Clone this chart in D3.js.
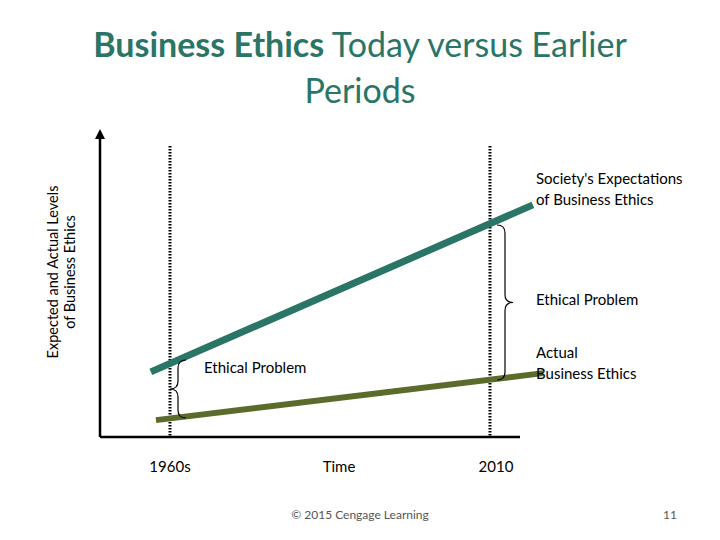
<!DOCTYPE html><html><head><meta charset="utf-8"><script src="https://cdn.jsdelivr.net/npm/d3@7"></script>
<style>body{margin:0;background:#fff}</style></head><body><svg id="c" width="720" height="540"></svg>
<script>
const years=[1960,2010];
const yearLabels=["1960s","2010"];
const societyX=[1957,2016.7], societyY=[21.2,75.6];
const actualX=[1957.8,2018.3], actualY=[5.5,20.8];
const svg=d3.select("#c"), F="Lato, 'Open Sans', sans-serif";
const x=d3.scaleLinear().domain([1949.06,2014.69]).range([100,520]);
const y=d3.scaleLinear().domain([0,100]).range([437,130]);
const teal="#2a7566";
const t=svg.append("text").attr("x",360).attr("y",57).attr("text-anchor","middle").attr("font-family",F).attr("font-size",34).attr("fill",teal);
t.append("tspan").attr("font-weight","bold").text("Business Ethics");
t.append("tspan").text(" Today versus Earlier");
svg.append("text").attr("x",360).attr("y",103).attr("text-anchor","middle").attr("font-family",F).attr("font-size",34).attr("fill",teal).text("Periods");
svg.append("defs").append("marker").attr("id","ar").attr("viewBox","0 0 10 10").attr("refX",5).attr("refY",5).attr("markerWidth",4).attr("markerHeight",4).attr("orient","auto").append("path").attr("d","M0,0L10,5L0,10z").attr("fill","#000");
svg.append("line").attr("x1",100).attr("y1",437).attr("x2",100).attr("y2",134).attr("stroke","#000").attr("stroke-width",2.5).attr("marker-end","url(#ar)");
svg.append("line").attr("x1",100).attr("y1",437).attr("x2",x(2014.69)).attr("y2",437).attr("stroke","#000").attr("stroke-width",2.5);
years.forEach(v=>svg.append("line").attr("x1",x(v)).attr("x2",x(v)).attr("y1",146).attr("y2",437).attr("stroke","#000").attr("stroke-width",3).attr("stroke-dasharray","1.5,1.5"));
const ln=d3.line().x(d=>x(d[0])).y(d=>y(d[1]));
svg.append("path").attr("d",ln(societyX.map((v,i)=>[v,societyY[i]]))).attr("stroke",teal).attr("stroke-width",7).attr("fill","none");
svg.append("path").attr("d",ln(actualX.map((v,i)=>[v,actualY[i]]))).attr("stroke","#5b6b2c").attr("stroke-width",6).attr("fill","none");
function brace(cx,y1,y2,dir){const m=(y1+y2)/2,w=8*dir;
 return `M${cx+w},${y1} Q${cx},${y1} ${cx},${y1+8} L${cx},${m-8} Q${cx},${m} ${cx-w},${m} Q${cx},${m} ${cx},${m+8} L${cx},${y2-8} Q${cx},${y2} ${cx+w},${y2}`;}
svg.append("path").attr("d",brace(178,360,418,1)).attr("stroke","#000").attr("fill","none").attr("stroke-width",1.2);
svg.append("path").attr("d",brace(505,225,380,-1)).attr("stroke","#000").attr("fill","none").attr("stroke-width",1.2);
const txt=(s,xx,yy,a="start",sz=15,c="#000")=>svg.append("text").attr("x",xx).attr("y",yy).attr("text-anchor",a).attr("font-family",F).attr("font-size",sz).attr("fill",c).text(s);
txt("Society's Expectations",536,184);txt("of Business Ethics",536,205);
txt("Ethical Problem",536,305);
txt("Actual",536,358);txt("Business Ethics",536,379);
txt("Ethical Problem",204,373);
txt(yearLabels[0],x(years[0]),472,"middle");txt("Time",339,472,"middle");txt(yearLabels[1],x(years[1])+6,472,"middle");
txt("© 2015 Cengage Learning",360,519,"middle",12,"#555");txt("11",670,519,"middle",12,"#555");
const g=svg.append("g").attr("transform","translate(58,272) rotate(-90)");
g.append("text").attr("text-anchor","middle").attr("font-family",F).attr("font-size",14.5).text("Expected and Actual Levels");
g.append("text").attr("y",17).attr("text-anchor","middle").attr("font-family",F).attr("font-size",14.5).text("of Business Ethics");
</script></body></html>
